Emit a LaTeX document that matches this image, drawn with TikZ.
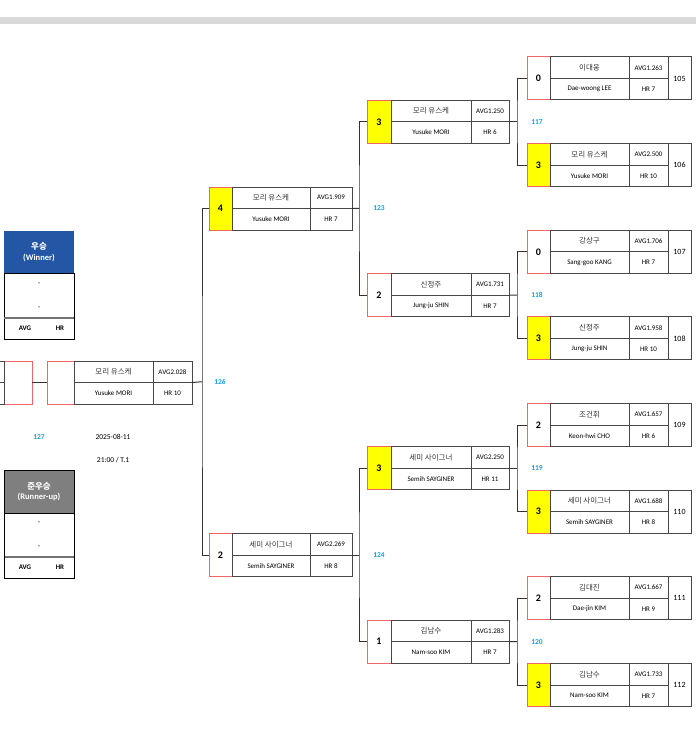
\documentclass[tikz,border=0pt]{standalone}
\usepackage{fontspec}
\setmainfont{Carlito}
\newfontfamily\kr{Noto Sans CJK KR}
\usetikzlibrary{calc}
\definecolor{cellline}{HTML}{474747}
\definecolor{scoreline}{HTML}{F06464}
\definecolor{hl}{HTML}{FFFF00}
\definecolor{lbl}{HTML}{1A9FE0}
\definecolor{winblue}{HTML}{2456A6}
\definecolor{rugray}{HTML}{7F7F7F}
\definecolor{barc}{HTML}{D9D9D9}
\tikzset{
 cell/.style={draw=cellline, line width=1pt, inner sep=0pt, outer sep=0pt, minimum height=21.5pt, anchor=north west, align=center},
 scorecell/.style={draw=scoreline, line width=1pt, inner sep=0pt, outer sep=0pt, minimum height=43pt, anchor=west, font=\fontsize{10}{11}\selectfont\bfseries},
 link/.style={draw=black!80, line width=1pt},
 lab/.style={text=lbl, font=\fontsize{7.5}{8}\selectfont\bfseries},
 ktext/.style={font=\kr\fontsize{7.5}{8}\selectfont, text=black!80},
 etext/.style={font=\fontsize{7}{8}\selectfont},
 ntext/.style={font=\fontsize{8}{9}\selectfont},
 plain/.style={font=\fontsize{7.5}{8}\selectfont},
 head/.style={inner sep=0pt, outer sep=0pt, minimum width=70pt, minimum height=42pt, anchor=north west, text=white, align=center, font=\fontsize{8.5}{10.5}\selectfont\bfseries},
 panel/.style={draw=black, line width=1pt, inner sep=0pt, outer sep=0pt, minimum width=70pt, anchor=north west},
 small/.style={font=\fontsize{7}{8}\selectfont\bfseries},
}
% id, x, ymid, score, fill, kname, ename, avg, hr
\newcommand\MB[9]{%
 \node[scorecell, fill=#5, minimum width=\wS] (#1s) at (#2,#3) {#4};
 \node[cell, minimum width=\wN, ktext] (#1k) at (#1s.north east) {#6};
 \node[cell, minimum width=\wN, etext] (#1e) at (#1k.south west) {#7};
 \node[cell, minimum width=\wA, etext] (#1a) at (#1k.north east) {#8};
 \node[cell, minimum width=\wA, etext] (#1h) at (#1a.south west) {#9};
}
\newcommand\NumCell[2]{%
 \node[cell, minimum width=23pt, minimum height=43pt, ntext] (#1n) at (#1a.north east) {#2};
}
\begin{document}
\begin{tikzpicture}[x=1pt, y=-1pt]
\useasboundingbox (0,0) rectangle (696,730);
\fill[barc] (0,17) rectangle (696,24);

% Round 1
\def\wS{23pt}\def\wN{79pt}\def\wA{39pt}
\MB{m105}{527}{78.5}{0}{white}{이대웅}{Dae-woong LEE}{AVG1.263}{HR 7}\NumCell{m105}{105}
\MB{m106}{527}{165.1}{3}{hl}{모리 유스케}{Yusuke MORI}{AVG2.500}{HR 10}\NumCell{m106}{106}
\MB{m107}{527}{251.8}{0}{white}{강상구}{Sang-goo KANG}{AVG1.706}{HR 7}\NumCell{m107}{107}
\MB{m108}{527}{338.4}{3}{hl}{신정주}{Jung-ju SHIN}{AVG1.958}{HR 10}\NumCell{m108}{108}
\MB{m109}{527}{425.1}{2}{white}{조건휘}{Keon-hwi CHO}{AVG1.657}{HR 6}\NumCell{m109}{109}
\MB{m110}{527}{511.7}{3}{hl}{세미 사이그너}{Semih SAYGINER}{AVG1.688}{HR 8}\NumCell{m110}{110}
\MB{m111}{527}{598.3}{2}{white}{김대진}{Dae-jin KIM}{AVG1.667}{HR 9}\NumCell{m111}{111}
\MB{m112}{527}{685.0}{3}{hl}{김남수}{Nam-soo KIM}{AVG1.733}{HR 7}\NumCell{m112}{112}

% Round 2
\def\wS{24pt}\def\wN{80pt}\def\wA{38pt}
\MB{q1}{367}{121.8}{3}{hl}{모리 유스케}{Yusuke MORI}{AVG1.250}{HR 6}
\MB{q2}{367}{295.1}{2}{white}{신정주}{Jung-ju SHIN}{AVG1.731}{HR 7}
\MB{q3}{367}{468.4}{3}{hl}{세미 사이그너}{Semih SAYGINER}{AVG2.250}{HR 11}
\MB{q4}{367}{641.6}{1}{white}{김남수}{Nam-soo KIM}{AVG1.283}{HR 7}

% Semis
\def\wS{23pt}\def\wN{78pt}\def\wA{42pt}
\MB{s1}{209}{208.5}{4}{hl}{모리 유스케}{Yusuke MORI}{AVG1.909}{HR 7}
\MB{s2}{209}{555.0}{2}{white}{세미 사이그너}{Semih SAYGINER}{AVG2.269}{HR 8}

% Final
\def\wS{27pt}\def\wN{79pt}\def\wA{39pt}
\MB{f}{47}{382.5}{}{white}{모리 유스케}{Yusuke MORI}{AVG2.028}{HR 10}
\node[scorecell, fill=white, minimum width=28pt] (lfs) at (4,382.5) {};
\node[cell, minimum width=79pt, anchor=north east] (lfk) at (lfs.north west) {};
\node[cell, minimum width=79pt, anchor=north east] (lfe) at (lfk.south east) {};

% junctions
\coordinate (j117) at ($(m105s.west)!0.5!(m106s.west)+(-10,0)$);
\coordinate (j118) at ($(m107s.west)!0.5!(m108s.west)+(-10,0)$);
\coordinate (j119) at ($(m109s.west)!0.5!(m110s.west)+(-10,0)$);
\coordinate (j120) at ($(m111s.west)!0.5!(m112s.west)+(-10,0)$);
\coordinate (j123) at ($(q1s.west)!0.5!(q2s.west)+(-8,0)$);
\coordinate (j124) at ($(q3s.west)!0.5!(q4s.west)+(-8,0)$);
\coordinate (j126) at ($(s1s.west)!0.5!(s2s.west)+(-7,0)$);

\draw[link] (m105s.west) -| (j117) |- (m106s.west);
\draw[link] (m107s.west) -| (j118) |- (m108s.west);
\draw[link] (m109s.west) -| (j119) |- (m110s.west);
\draw[link] (m111s.west) -| (j120) |- (m112s.west);
\draw[link] (q1a.south east) -- (j117);
\draw[link] (q2a.south east) -- (j118);
\draw[link] (q3a.south east) -- (j119);
\draw[link] (q4a.south east) -- (j120);
\draw[link] (q1s.west) -| (j123) |- (q2s.west);
\draw[link] (q3s.west) -| (j124) |- (q4s.west);
\draw[link] (s1a.south east) -- (j123);
\draw[link] (s2a.south east) -- (j124);
\draw[link] (s1s.west) -| (j126) |- (s2s.west);
\draw[link] (fa.south east) -- (j126);
\draw[link] (lfs.east) -- (fs.west);

\node[lab] (l117) at ($(j117)+(20,0)$) {117};
\node[lab] (l118) at ($(j118)+(20,0)$) {118};
\node[lab] (l119) at ($(j119)+(20,0)$) {119};
\node[lab] (l120) at ($(j120)+(20,0)$) {120};
\node[lab] (l123) at ($(j123)+(20,0)$) {123};
\node[lab] (l124) at ($(j124)+(20,0)$) {124};
\node[lab] (l126) at ($(j126)+(18,0)$) {126};
\node[lab] (l127) at (39,437) {127};
\node[plain] (date) at (113,437) {2025-08-11};
\node[plain] (time) at (113,460) {21:00 / T.1};

% Winner panel
\node[head, fill=winblue] (winh) at (4,231) {{\kr 우승}\\(Winner)};
\node[panel, minimum height=45pt] (winb) at (winh.south west) {};
\node[panel, minimum height=21pt] (winf) at (winb.south west) {};
\draw[draw=black!55, line width=1.4pt] (winf.north west) -- (winf.north east);
\node[plain] (wd1) at (39,284) {-};
\node[plain] (wd2) at (39,308) {-};
\node[small] (wavg) at (25,328.5) {AVG};
\node[small] (whr) at (60,328.5) {HR};

% Runner-up panel
\node[head, fill=rugray, minimum height=43pt] (ruh) at (4,470) {{\kr 준우승}\\(Runner-up)};
\node[panel, minimum height=44pt] (rub) at (ruh.south west) {};
\node[panel, minimum height=21pt] (ruf) at (rub.south west) {};
\draw[draw=black!55, line width=1.4pt] (ruf.north west) -- (ruf.north east);
\draw[draw=black, line width=1pt] (ruh.north west) rectangle (ruf.south east);
\node[plain] (rd1) at (39,523) {-};
\node[plain] (rd2) at (39,547) {-};
\node[small] (ravg) at (25,567.5) {AVG};
\node[small] (rhr) at (60,567.5) {HR};
\end{tikzpicture}
\end{document}
